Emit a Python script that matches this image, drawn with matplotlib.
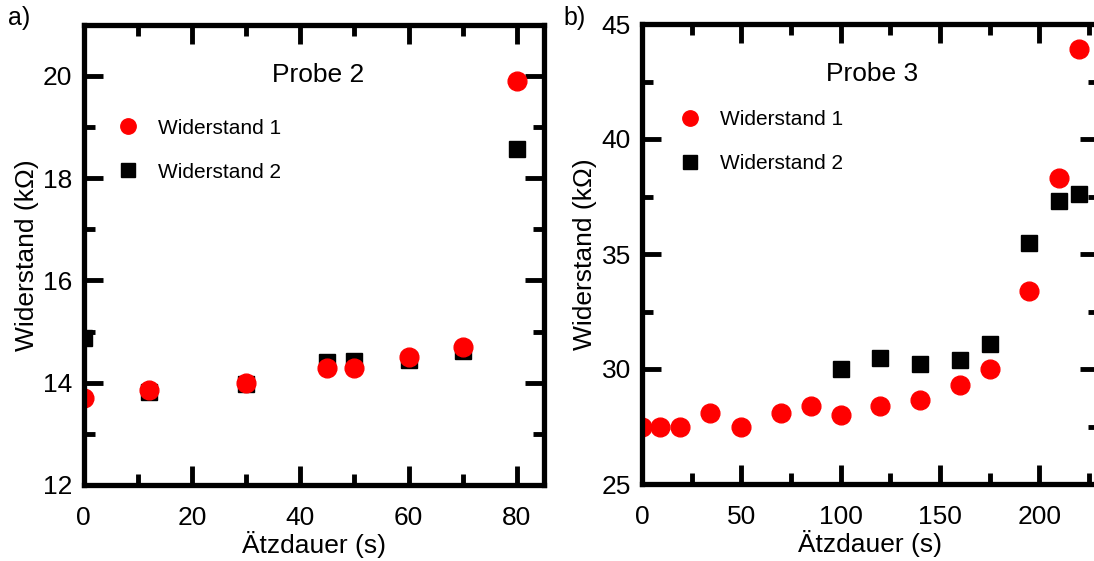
import matplotlib
matplotlib.use("Agg")
import matplotlib.pyplot as plt
from matplotlib.ticker import MultipleLocator

plt.rcParams["font.family"] = ["Liberation Sans", "DejaVu Sans"]

# ── Probe 2 ──
a_x1 = [0, 12, 30, 45, 50, 60, 70, 80]
a_r1 = [13.7, 13.85, 14.0, 14.28, 14.28, 14.5, 14.7, 19.9]
a_x2 = [0, 12, 30, 45, 50, 60, 70, 80]
a_r2 = [14.88, 13.82, 13.97, 14.4, 14.42, 14.45, 14.62, 18.57]

# ── Probe 3 ──
b_x1 = [0, 9, 19, 34, 50, 70, 85, 100, 120, 140, 160, 175, 195, 210, 220]
b_r1 = [27.5, 27.5, 27.5, 28.1, 27.5, 28.1, 28.4, 28.0, 28.4, 28.65, 29.3, 30.0, 33.4, 38.3, 43.9]
b_x2 = [100, 120, 140, 160, 175, 195, 210, 220]
b_r2 = [30.0, 30.5, 30.2, 30.4, 31.1, 35.5, 37.3, 37.6]

W, H = 1094, 561
fig = plt.figure(figsize=(W / 100, H / 100), dpi=100)

def make_axes(l, r, b, t):
    return fig.add_axes([l / W, 1 - b / H, (r - l) / W, (b - t) / H])

def style(ax, xmaj, ymaj):
    for s in ax.spines.values():
        s.set_linewidth(3.8)
    ax.xaxis.set_major_locator(MultipleLocator(xmaj))
    ax.xaxis.set_minor_locator(MultipleLocator(xmaj / 2))
    ax.yaxis.set_major_locator(MultipleLocator(ymaj))
    ax.yaxis.set_minor_locator(MultipleLocator(ymaj / 2))
    ax.tick_params(which="both", direction="in", top=True, right=True,
                   width=3.5, labelsize=19)
    ax.tick_params(axis="x", which="both", pad=15)
    ax.tick_params(axis="y", which="both", pad=8)
    ax.tick_params(which="major", length=14)
    ax.tick_params(which="minor", length=8)
    ax.set_xlabel("Ätzdauer (s)", fontsize=19, labelpad=1)
    ax.set_ylabel("Widerstand (k\u03A9)", fontsize=19, labelpad=3)

def add_legend(ax, x, y):
    h, l = ax.get_legend_handles_labels()
    ax.legend(h[::-1], l[::-1], loc="center left", bbox_to_anchor=(x, y),
              frameon=False, fontsize=15, handletextpad=0.9, labelspacing=1.2,
              markerscale=0.82, handlelength=1.0, borderpad=0, borderaxespad=0)

# panel a
ax1 = make_axes(83.5, 544, 485, 24.5)
ax1.plot(a_x2, a_r2, "s", color="black", ms=11.5, label="Widerstand 2")
ax1.plot(a_x1, a_r1, "o", color="red", mec="red", ms=13.5, label="Widerstand 1")
ax1.set_xlim(0, 85)
ax1.set_ylim(12, 21)
style(ax1, 20, 2)
add_legend(ax1, 0.075, 0.727)
ax1.text(0.51, 0.89, "Probe 2", transform=ax1.transAxes, ha="center", va="center",
         fontsize=19)

# panel b
ax2 = make_axes(642, 1099, 484, 24)
ax2.plot(b_x2, b_r2, "s", color="black", ms=11.5, label="Widerstand 2")
ax2.plot(b_x1, b_r1, "o", color="red", mec="red", ms=13.5, label="Widerstand 1")
ax2.set_xlim(0, 230)
ax2.set_ylim(25, 45)
style(ax2, 50, 5)
add_legend(ax2, 0.083, 0.744)
ax2.text(0.503, 0.892, "Probe 3", transform=ax2.transAxes, ha="center", va="center",
         fontsize=19)

fig.text(8 / W, 1 - 18 / H, "a)", fontsize=18, va="center")
fig.text(563 / W, 1 - 18 / H, "b)", fontsize=18, va="center")

fig.savefig("out.png", dpi=100)
